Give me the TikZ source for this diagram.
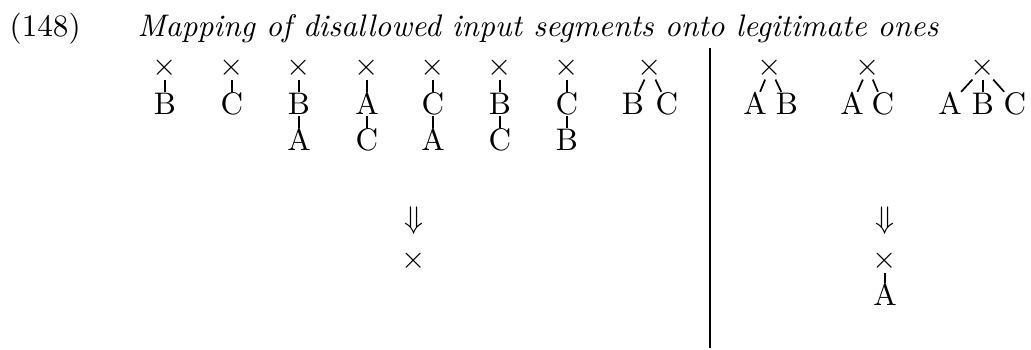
\documentclass[tikz,border=0pt]{standalone}
\usepackage{tikz}
\usetikzlibrary{positioning}

\begin{document}
\begin{tikzpicture}[
            x=0.3205pt, y=-0.3205pt,
            cross/.style={inner xsep=0pt, inner ysep=1.0pt, text height=5pt, text depth=0pt},
            seg/.style={inner xsep=1pt, inner ysep=0.3pt, text height=6.83pt, text depth=0pt},
            branch/.style={line width=0.55pt},
            divider/.style={line width=0.8pt}
        ]
            \useasboundingbox (0,0) rectangle (1031,349);

            \node[anchor=base west, inner sep=0pt] (exnum) at (9,36) {(148)};
            \node[anchor=base west, inner sep=0pt, font=\itshape] (title) at (137,36) {Mapping of disallowed input segments onto legitimate ones};

            % disallowed segments
            \node[cross] (x1) at (165,68) {$\times$};
            \node[seg] (b1) at (165,104) {B};
            \draw[branch] (x1) -- (b1);

            \node[cross] (x2) at (232,68) {$\times$};
            \node[seg] (c2) at (232,104) {C};
            \draw[branch] (x2) -- (c2);

            \node[cross] (x3) at (299,68) {$\times$};
            \node[seg] (b3) at (299,104) {B};
            \node[seg] (a3) at (299,140) {A};
            \draw[branch] (x3) -- (b3) -- (a3);

            \node[cross] (x4) at (367,68) {$\times$};
            \node[seg] (a4) at (367,104) {A};
            \node[seg] (c4) at (367,140) {C};
            \draw[branch] (x4) -- (a4) -- (c4);

            \node[cross] (x5) at (433,68) {$\times$};
            \node[seg] (c5) at (433,104) {C};
            \node[seg] (a5) at (433,140) {A};
            \draw[branch] (x5) -- (c5) -- (a5);

            \node[cross] (x6) at (500,68) {$\times$};
            \node[seg] (b6) at (500,104) {B};
            \node[seg] (c6) at (500,140) {C};
            \draw[branch] (x6) -- (b6) -- (c6);

            \node[cross] (x7) at (567,68) {$\times$};
            \node[seg] (c7) at (567,104) {C};
            \node[seg] (b7) at (567,140) {B};
            \draw[branch] (x7) -- (c7) -- (b7);

            \node[cross] (x8) at (650,68) {$\times$};
            \node[seg] (b8) at (633,104) {B};
            \node[seg] (c8) at (667,104) {C};
            \draw[branch] (x8) -- (b8);
            \draw[branch] (x8) -- (c8);

            % divider
            \coordinate (divtop) at (710,48);
            \coordinate (divbot) at (710,348);
            \draw[divider] (divtop) -- (divbot);

            % legitimate segments
            \node[cross] (y1) at (770,68) {$\times$};
            \node[seg] (ya1) at (755,104) {A};
            \node[seg] (yb1) at (787,104) {B};
            \draw[branch] (y1) -- (ya1);
            \draw[branch] (y1) -- (yb1);

            \node[cross] (y2) at (868,68) {$\times$};
            \node[seg] (ya2) at (852,104) {A};
            \node[seg] (yc2) at (883,104) {C};
            \draw[branch] (y2) -- (ya2);
            \draw[branch] (y2) -- (yc2);

            \node[cross] (y3) at (983,68) {$\times$};
            \node[seg] (ya3) at (950,104) {A};
            \node[seg] (yb3) at (983,104) {B};
            \node[seg] (yc3) at (1015,104) {C};
            \draw[branch] (y3) -- (ya3);
            \draw[branch] (y3) -- (yb3);
            \draw[branch] (y3) -- (yc3);

            % outputs
            \node (maps1) at (414,221) {$\Downarrow$};
            \node[cross] (out1) at (414,261) {$\times$};

            \node (maps2) at (885,221) {$\Downarrow$};
            \node[cross] (out2) at (885,261) {$\times$};
            \node[seg] (outa) at (885,295) {A};
            \draw[branch] (out2) -- (outa);
        \end{tikzpicture}
\end{document}
